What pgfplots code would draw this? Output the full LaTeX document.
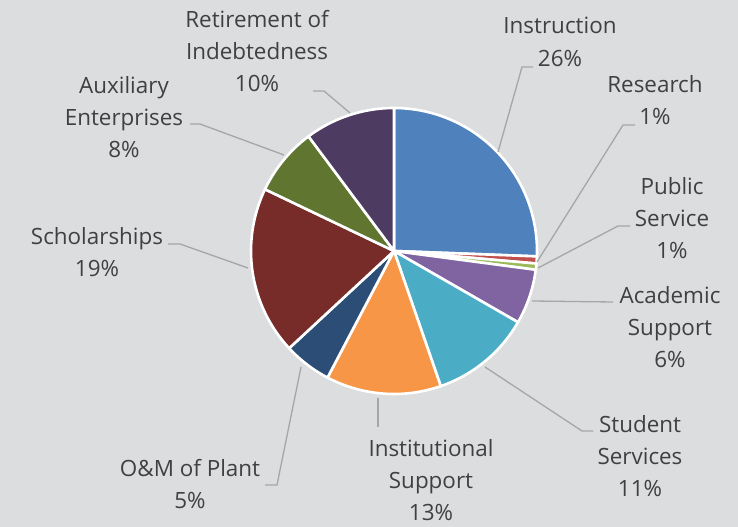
\documentclass[border=0pt]{standalone}
\usepackage{pgfplots}
\pgfplotsset{compat=1.18}
\usepackage{fontspec}
\setmainfont{Open Sans}

\definecolor{bg}{HTML}{DCDDDF}
\definecolor{txt}{HTML}{404040}
\definecolor{lead}{HTML}{A6A6A6}
\definecolor{c1}{HTML}{4F81BD}
\definecolor{c2}{HTML}{C0504D}
\definecolor{c3}{HTML}{9BBB59}
\definecolor{c4}{HTML}{8064A2}
\definecolor{c5}{HTML}{4BACC6}
\definecolor{c6}{HTML}{F79646}
\definecolor{c7}{HTML}{2C4D75}
\definecolor{c8}{HTML}{772C2A}
\definecolor{c9}{HTML}{5F7530}
\definecolor{c10}{HTML}{4D3B62}

\tikzset{lbl/.style={font=\fontsize{22.5}{32.5}\selectfont, text=txt, align=center, inner sep=0pt}}

% one slice: #1 = share in percent, #2 = colour; clockwise from 12 o'clock
\def\cum{0}
\newcommand\slice[2]{%
  \pgfmathsetmacro\angA{90-3.6*\cum}%
  \pgfmathsetmacro\cumB{\cum+#1}%
  \pgfmathsetmacro\angB{90-3.6*\cumB}%
  \edef\doslice{\noexpand\addplot[fill=#2, draw=white, line width=2.6bp,
    line join=round, domain=\angB:\angA, samples=90, variable=\noexpand\t]
    ({143*cos(\noexpand\t)}, {143*sin(\noexpand\t)}) -- (0,0) -- cycle;}%
  \doslice
  \xdef\cum{\cumB}%
}

\begin{document}
\begin{tikzpicture}
\fill[bg] (0,0) rectangle (738bp,527bp);
\begin{axis}[
  at={(0,0)}, anchor=south west,
  scale only axis, width=738bp, height=527bp,
  xmin=-394, xmax=344, ymin=-276, ymax=251,
  hide axis, clip=false,
]
\slice{25.6}{c1}  % Instruction
\slice{0.8}{c2}   % Research
\slice{0.7}{c3}   % Public Service
\slice{6.2}{c4}   % Academic Support
\slice{11.4}{c5}  % Student Services
\slice{13.0}{c6}  % Institutional Support
\slice{5.4}{c7}   % O&M of Plant
\slice{19.0}{c8}  % Scholarships
\slice{7.7}{c9}   % Auxiliary Enterprises
\slice{10.2}{c10} % Retirement of Indebtedness

% leader lines
\addplot[lead, line width=1.3bp] coordinates {(104,99) (128,184) (139,184)};
\addplot[lead, line width=1.3bp] coordinates {(143,-11) (229,126) (241,126)};
\addplot[lead, line width=1.3bp] coordinates {(144,-17) (224,25) (236,25)};
\addplot[lead, line width=1.3bp] coordinates {(138,-50) (219,-51)};
\addplot[lead, line width=1.3bp] coordinates {(91,-116) (188,-180) (199,-180)};
\addplot[lead, line width=1.3bp] coordinates {(-16,-147) (-16,-176)};
\addplot[lead, line width=1.3bp] coordinates {(-93,-116) (-117,-234) (-129,-234)};
\addplot[lead, line width=1.3bp] coordinates {(-146,-17) (-214,7) (-226,7)};
\addplot[lead, line width=1.3bp] coordinates {(-110,96) (-194,127) (-204,127)};
\addplot[lead, line width=1.3bp] coordinates {(-44,138) (-70,160) (-81,160)};

% labels
\node[lbl] at (axis cs:166,209) {Instruction\\26\%};
\node[lbl] at (axis cs:261,151) {Research\\1\%};
\node[lbl] at (axis cs:278,33) {Public\\Service\\1\%};
\node[lbl] at (axis cs:276,-76) {Academic\\Support\\6\%};
\node[lbl] at (axis cs:246,-205) {Student\\Services\\11\%};
\node[lbl] at (axis cs:37,-229) {Institutional\\Support\\13\%};
\node[lbl] at (axis cs:-204,-233) {O\&M of Plant\\5\%};
\node[lbl] at (axis cs:-297,-1) {Scholarships\\19\%};
\node[lbl] at (axis cs:-270,134) {Auxiliary\\Enterprises\\8\%};
\node[lbl] at (axis cs:-137,200) {Retirement of\\Indebtedness\\10\%};
\end{axis}
\end{tikzpicture}
\end{document}
